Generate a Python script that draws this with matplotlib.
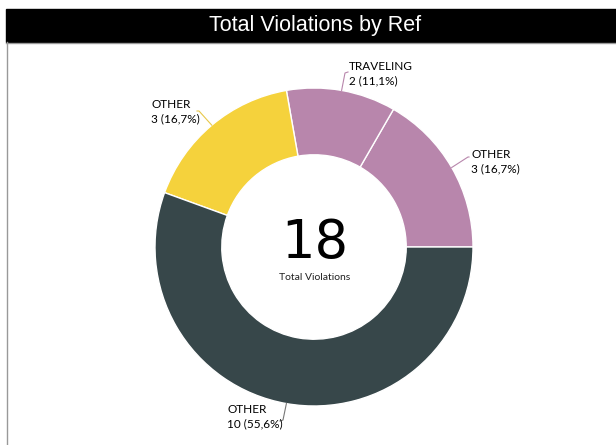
import numpy as np
import matplotlib.pyplot as plt
from matplotlib.patches import Rectangle

labels = ["OTHER", "TRAVELING", "OTHER", "OTHER"]
values = [3, 2, 3, 10]
colors = ["#B886AC", "#B886AC", "#F5D23C", "#37474A"]
line_colors = ["#B886AC", "#B886AC", "#E8C84A", "#777777"]
total = sum(values)

W, H = 616, 445
fig = plt.figure(figsize=(W / 100, H / 100), dpi=100)
ax = fig.add_axes([0, 0, 1, 1])

cx, cy, r = 314, H - 247, 159
wedges, _ = ax.pie(values, colors=colors, center=(cx, cy), radius=r,
                   startangle=0, counterclock=True, frame=True,
                   wedgeprops=dict(width=r * 0.42, edgecolor="white", linewidth=1))
ax.set_xlim(0, W)
ax.set_ylim(0, H)
ax.set_aspect("auto")
ax.axis("off")

# header bar
ax.add_patch(Rectangle((6, H - 42), W - 6, 33, color="black", zorder=1))
ax.plot([6, W], [H - 42.5, H - 42.5], color="#999999", lw=1)
ax.plot([6.5, 6.5], [0, H - 42], color="#999999", lw=1)
ax.text(315, H - 26, "Total Violations by Ref", color="white", fontsize=15.5,
        family="Liberation Sans", ha="center", va="center")

# leader line elbows and label positions (pixel coords from top)
elbows = [(468, 157), (345, 73), (199, 111), (283, 420)]
ends = [(469, 157), (348, 72), (197, 111), (280, 421)]
text_pos = [(471, 149), (349, 61), (151, 99), (227, 404)]

for w, v, lab, lc, el, en, tp in zip(wedges, values, labels, line_colors, elbows, ends, text_pos):
    ang = np.deg2rad((w.theta1 + w.theta2) / 2)
    x0, y0 = cx + r * np.cos(ang), cy + r * np.sin(ang)
    ax.plot([x0, el[0], en[0]], [y0, H - el[1], H - en[1]], color=lc, lw=0.8)
    pct = f"{v / total * 100:.1f}".replace(".", ",")
    ax.text(tp[0], H - tp[1], f"{lab}\n{v} ({pct}%)", fontsize=8.5, family="Lato",
            color="#000000", ha="left", va="top", linespacing=1.35)

ax.text(315, H - 243, str(total), fontsize=38, ha="center", va="center", color="black")
ax.text(315, H - 277, "Total Violations", fontsize=7.5, family="Lato",
        ha="center", va="center", color="#222222")

fig.savefig("out.png", dpi=100)
